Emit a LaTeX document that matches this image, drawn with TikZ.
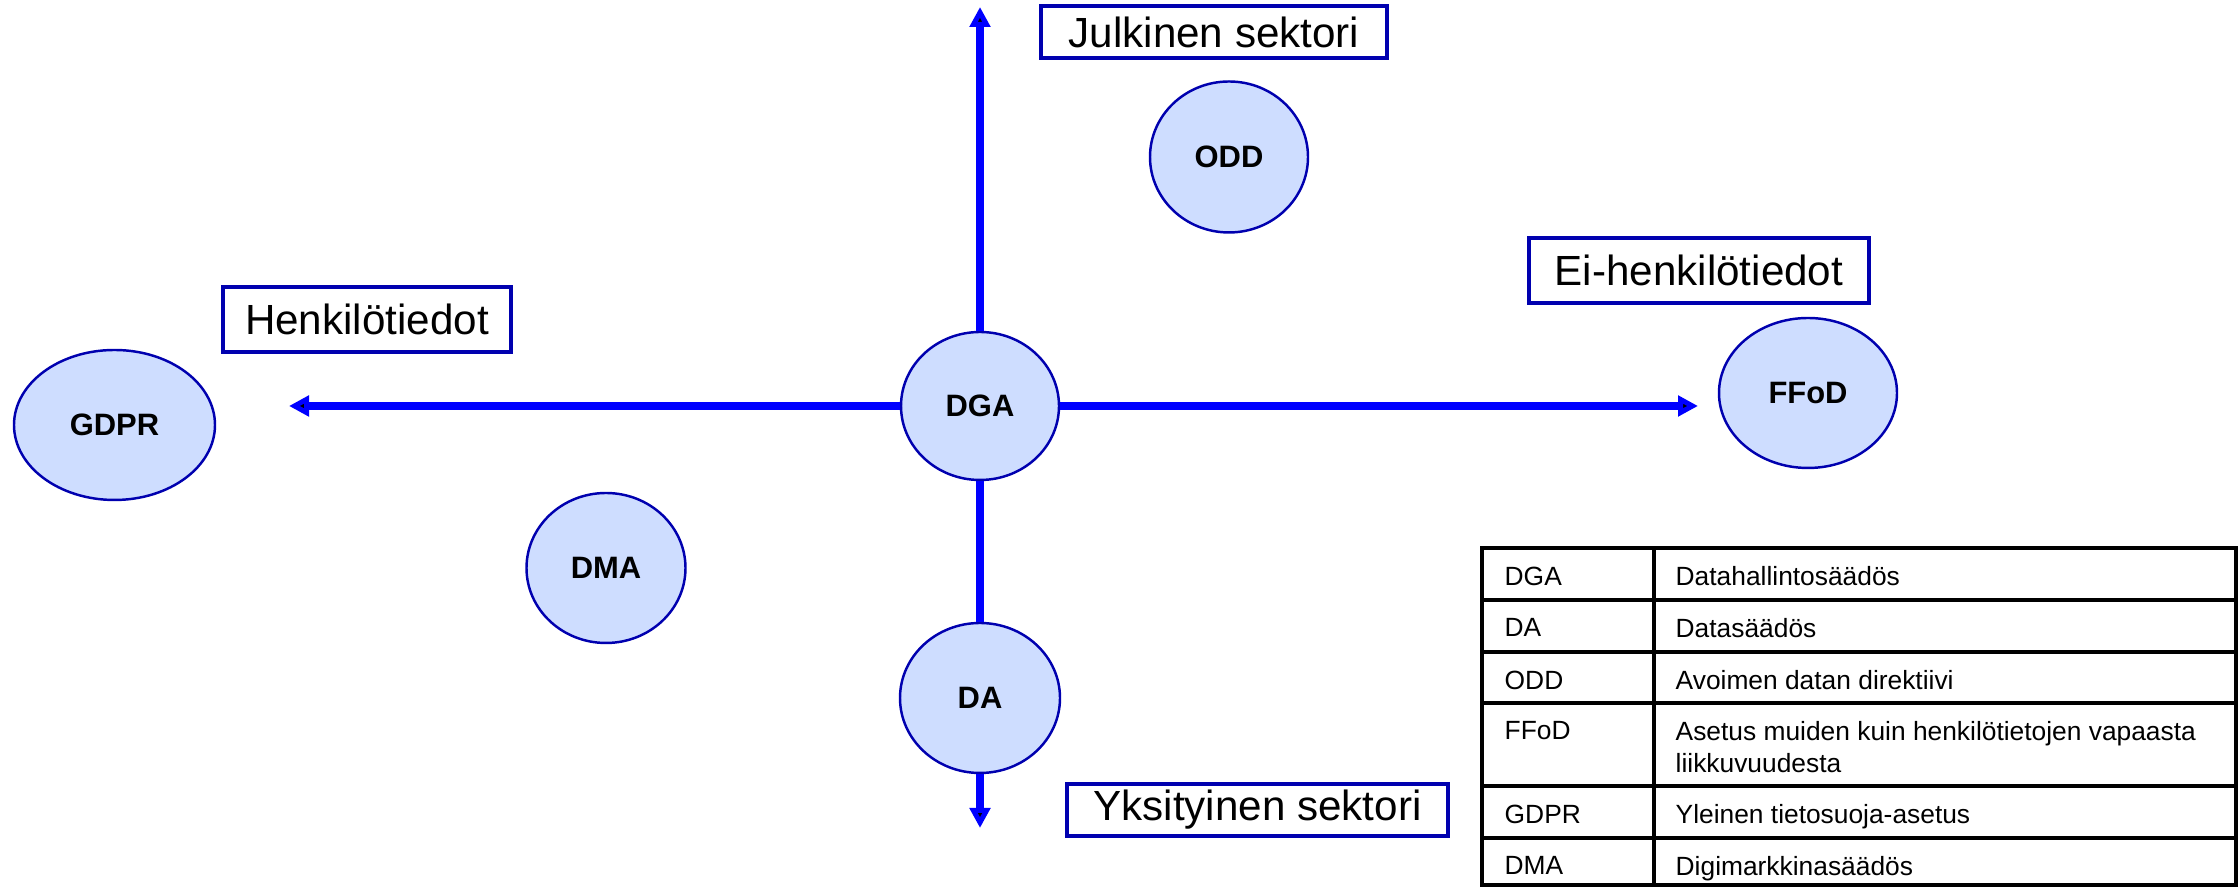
\documentclass[tikz,border=0pt]{standalone}
\usepackage{fontspec}
\setmainfont{Liberation Sans}
\usetikzlibrary{arrows.meta,shapes.geometric}
\definecolor{lawfill}{RGB}{206,221,255}
\definecolor{lawline}{RGB}{0,0,175}
\definecolor{axisblue}{RGB}{0,0,255}

\begin{document}
\begin{tikzpicture}[>={Triangle[length=2mm,width=2mm]},
                    law/.style={ellipse,draw=lawline,line width=0.7pt,fill=lawfill,
                                inner sep=0pt,font=\fontsize{8.8}{10}\selectfont\bfseries},
                    axis/.style={->,draw=axisblue,line width=2.2pt},
                    axislabel/.style={draw=lawline,line width=1.1pt,inner sep=0pt,
                                      font=\fontsize{12}{14}\selectfont},
                    tableline/.style={line width=0.9pt},
                    cell/.style={anchor=north west,inner sep=0pt,align=left,
                                 font=\fontsize{7.5}{9.1}\selectfont}]
  \useasboundingbox (0,0) rectangle (22.39,8.87);

  \node[law, minimum width=1.58cm, minimum height=1.48cm] (DGA)  at (9.80,4.81)  {DGA};
  \node[law, minimum width=1.60cm, minimum height=1.50cm] (DA)   at (9.80,1.89)  {DA};
  \node[law, minimum width=1.58cm, minimum height=1.51cm] (ODD)  at (12.29,7.30) {ODD};
  \node[law, minimum width=1.78cm, minimum height=1.50cm] (FFoD) at (18.08,4.94) {FFoD};
  \node[law, minimum width=2.01cm, minimum height=1.50cm] (GDPR) at (1.145,4.62) {GDPR};
  \node[law, minimum width=1.59cm, minimum height=1.50cm] (DMA)  at (6.06,3.19)  {DMA};

  \coordinate (topend)   at (9.80,8.80);
  \coordinate (leftend)  at (2.89,4.81);
  \coordinate (rightend) at (16.98,4.81);
  \coordinate (downend)  at (9.80,0.59);

  \path[axis] (DGA) edge (topend)
                    edge (leftend)
                    edge (rightend)
              (DA)  edge (downend);
  \path[axis,-] (DGA) edge (DA);

  \node[axislabel, minimum width=3.46cm, minimum height=0.52cm] (public)      at (12.14,8.55)  {Julkinen sektori};
  \node[axislabel, minimum width=3.81cm, minimum height=0.52cm] (private)     at (12.575,0.77) {Yksityinen sektori};
  \node[axislabel, minimum width=2.88cm, minimum height=0.65cm] (personal)    at (3.67,5.675)  {Henkilötiedot};
  \node[axislabel, minimum width=3.40cm, minimum height=0.65cm] (nonpersonal) at (16.99,6.165) {Ei-henkilötiedot};

  % legend table
  \draw[tableline] (14.82,0.02) rectangle (22.36,3.39);
  \draw[tableline] (16.54,0.02) -- (16.54,3.39);
  \foreach \y in {2.87,2.35,1.84,1.01,0.49}
    \draw[tableline] (14.82,\y) -- (22.36,\y);
  \foreach \abbr/\name/\y [count=\i] in {DGA/Datahallintosäädös/3.39,
                                         DA/Datasäädös/2.87,
                                         ODD/Avoimen datan direktiivi/2.35,
                                         FFoD/{Asetus muiden kuin henkilötietojen vapaasta\\liikkuvuudesta}/1.84,
                                         GDPR/Yleinen tietosuoja-asetus/1.01,
                                         DMA/Digimarkkinasäädös/0.49}
  {
    \node[cell] (abbr\i) at (15.04,\y-0.18) {\abbr};
    \node[cell] (name\i) at (16.75,\y-0.18) {\name};
  }
\end{tikzpicture}
\end{document}
